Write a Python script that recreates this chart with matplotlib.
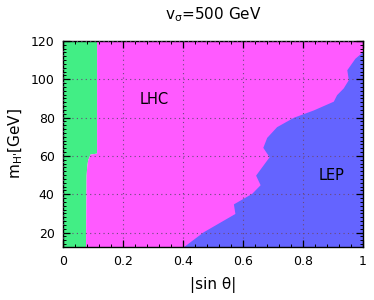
import matplotlib
matplotlib.use("Agg")
import matplotlib.pyplot as plt
from matplotlib.ticker import MultipleLocator

plt.rcParams['font.family'] = ['DejaVu Sans']
plt.rcParams['mathtext.default'] = 'regular'

# Region boundaries (x = |sin theta| as function of m_H')
lhc_y = [12.5, 50.0, 54.4, 57.9, 61.0, 61.5, 120.0]
lhc_x = [0.075, 0.077, 0.079, 0.082, 0.090, 0.112, 0.112]

lep_y = [12.5, 20.5, 30.0, 35.0, 40.5, 45.0, 50.0, 59.6, 64.5, 69.7, 75.3,
         80.2, 84.0, 88.6, 92.0, 95.5, 99.8, 105.0, 111.0, 114.6, 120.0]
lep_x = [0.400, 0.468, 0.573, 0.568, 0.629, 0.657, 0.642, 0.687, 0.666, 0.679, 0.712,
         0.768, 0.834, 0.901, 0.912, 0.934, 0.951, 0.946, 0.973, 1.000, 1.000]

x_ticks = [0, 0.2, 0.4, 0.6, 0.8, 1]
x_ticklabels = ["0", "0.2", "0.4", "0.6", "0.8", "1"]
y_ticks = [20, 40, 60, 80, 100, 120]

green = '#42EE85'
pink = '#FF5AFF'
blue = '#6464FF'

fig = plt.figure(figsize=(3.74, 3.0), dpi=100)
ax = fig.add_axes([63/374, 53/300, 300/374, 206/300])

ax.fill_betweenx(lhc_y, 0, lhc_x, color=green, lw=0)
ax.fill_betweenx(lhc_y, lhc_x, 1, color=pink, lw=0)
ax.fill_betweenx(lep_y, lep_x, 1, color=blue, lw=0)

ax.set_xlim(0, 1)
ax.set_ylim(12.5, 120)
ax.set_xticks(x_ticks)
ax.set_xticklabels(x_ticklabels)
ax.set_yticks(y_ticks)
ax.xaxis.set_minor_locator(MultipleLocator(0.04))
ax.yaxis.set_minor_locator(MultipleLocator(2))
ax.tick_params(which='both', direction='in', top=True, right=True, labelsize=9, pad=6)
ax.tick_params(which='major', length=5, width=0.9)
ax.tick_params(which='minor', length=2.5, width=0.7)
ax.grid(True, which='major', linestyle=(0, (1, 3)), color='#6a4a7a', lw=0.8)
ax.set_axisbelow(False)
for s in ax.spines.values():
    s.set_linewidth(1.0)

ax.text(0.303, 89.4, "LHC", fontsize=10.5, ha='center', va='center')
ax.text(0.896, 49.9, "LEP", fontsize=10.5, ha='center', va='center')

ax.set_xlabel(r"|sin θ|", fontsize=11, labelpad=6)
ax.set_ylabel(r"m$_{\text{H'}}$[GeV]", fontsize=11, labelpad=4)
fig.text(213/374, 1 - 15/300, r"v$_{\sigma}$=500 GeV", fontsize=11, ha='center', va='center')

fig.savefig("out.png", dpi=100)
